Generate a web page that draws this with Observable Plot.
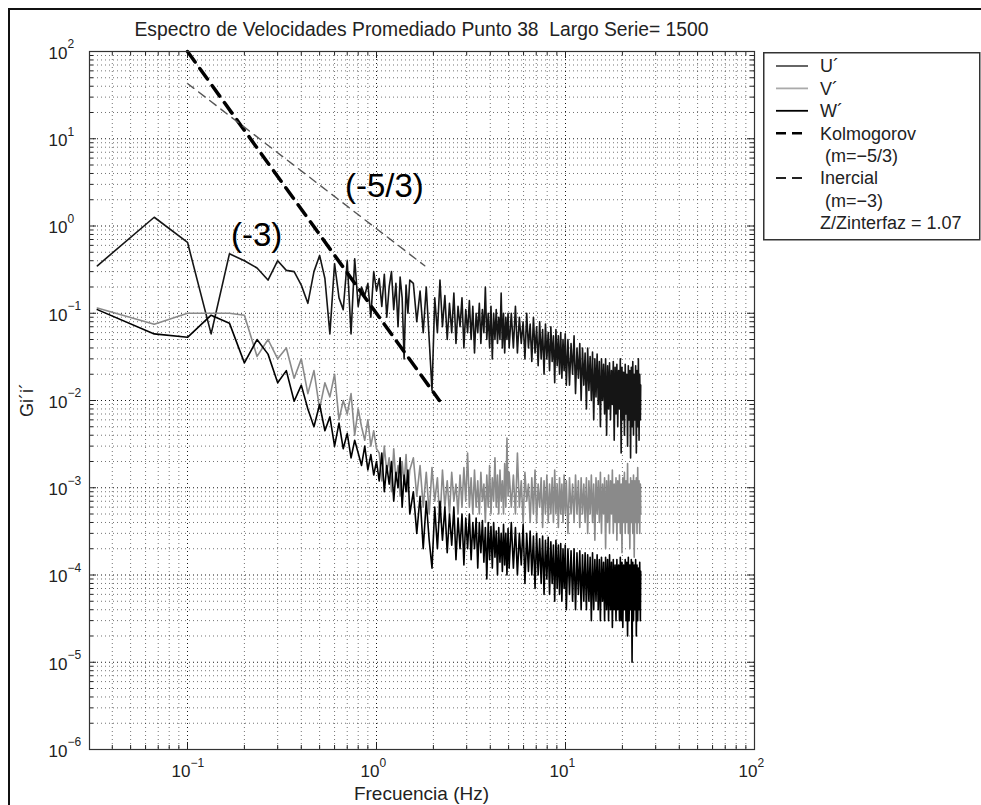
<!DOCTYPE html>
<html><head><meta charset="utf-8">
<script src="https://cdn.jsdelivr.net/npm/d3@7"></script>
<script src="https://cdn.jsdelivr.net/npm/@observablehq/plot@0.6"></script>
<style>
body{margin:0;background:#fff;overflow:hidden}
#wrap{position:relative;width:981px;height:805px;overflow:hidden;background:#fff;font-family:"Liberation Sans",Arial,sans-serif;color:#222}
#border{position:absolute;left:8px;top:8px;width:1200px;height:1200px;border:2px solid #111}
#title{position:absolute;left:89px;width:665px;top:20px;text-align:center;font-size:19.3px;line-height:20px;white-space:nowrap}
#xlabel{position:absolute;left:89px;width:665px;top:784px;text-align:center;font-size:19px;line-height:20px;white-space:nowrap}
#ylabel{position:absolute;left:27px;top:400px;transform:translate(-50%,-50%) rotate(-90deg);font-size:18px;white-space:nowrap}
#chart{position:absolute;left:0;top:0}
#legend{position:absolute;left:763px;top:52px}
</style></head>
<body>
<div id="wrap">
  <div id="border"></div>
  <div id="chart"></div>
  <div id="title">Espectro de Velocidades Promediado Punto 38&nbsp; Largo Serie= 1500</div>
  <div id="xlabel">Frecuencia (Hz)</div>
  <div id="ylabel">Gi´i´</div>
  <div id="legend"></div>
</div>
<script>
// spectral bin numbers (frequency resolution 1/30 Hz)
const binIndex = [1,2,3,4,5,6,7,8,9,10,11,12,13,14,15,16,17,18,19,20,21,22,23,24,25,26,27,28,29,30,31,32,33,34,35,36,37,38,39,40,41,42,43,44,45,
47,49,51,53,55,57,59,61,63,65,67,69,71,73,75,77,79,81,83,85,87,89,91,93,95,97,99,101,103,105,107,109,111,113,115,117,119,121,123,125,127,129,131,133,135,137,139,141,143,145,147,149,151,
155,159,163,167,171,175,179,183,187,191,195,199,203,207,211,215,219,223,227,231,235,239,243,247,251,255,259,263,267,271,275,279,283,287,291,295,299,303,
309,315,321,327,333,339,345,351,357,363,369,375,381,387,393,399,405,411,417,423,
429,435,441,447,453,459,465,471,477,483,489,495,501,507,513,519,525,531,537,543,
549,555,561,567,573,579,585,591,597,603,609,615,621,627,633,639,645,651,657,663,
669,675,681,687,693,699,705,711,717,723,729,735,741,747,750];
const binWidthHz = 1/30;

const uPrime = [0.35,1.26,0.65,0.058,0.48,0.40,0.33,0.24,0.40,0.31,
0.30,0.21,0.13,0.30,0.46,0.25,0.058,0.37,0.15,0.11,
0.40,0.058,0.42,0.12,0.20,0.16,0.22,0.09,0.30,0.18,
0.25,0.12,0.28,0.09,0.20,0.30,0.11,0.22,0.07,0.26,
0.15,0.03,0.21,0.10,0.24,
0.22,0.08,0.18,0.06,0.20,0.05,0.013,0.15,0.06,0.24,
0.07,0.16,0.05,0.13,0.06,0.17,0.045,0.12,0.07,0.15,
0.04,0.11,0.06,0.14,0.05,0.12,0.035,0.10,0.06,0.13,
0.045,0.11,0.06,0.20,0.05,0.10,0.04,0.12,0.03,0.10,
0.05,0.11,0.045,0.09,0.05,0.17,0.04,0.10,0.035,0.09,
0.05,0.10,0.04,
0.10,0.04,0.12,0.035,0.09,0.045,0.08,0.03,0.10,0.04,
0.075,0.028,0.09,0.035,0.07,0.025,0.08,0.03,0.065,0.02,
0.075,0.03,0.06,0.022,0.07,0.028,0.055,0.016,0.065,0.025,
0.055,0.02,0.06,0.018,0.05,0.022,0.058,0.015,
0.05,0.015,0.045,0.02,0.055,0.012,0.04,0.018,0.045,0.01,
0.04,0.015,0.035,0.008,0.04,0.013,0.032,0.01,0.036,0.006,
0.03,0.011,0.034,0.009,0.028,0.005,0.03,0.01,0.026,0.007,
0.03,0.004,0.025,0.008,0.027,0.006,0.022,0.009,0.028,0.0035,
0.024,0.007,0.026,0.005,0.022,0.008,0.03,0.0025,0.024,0.006,
0.021,0.004,0.026,0.007,0.02,0.003,0.025,0.006,0.022,0.0022,
0.024,0.005,0.028,0.004,0.02,0.006,0.025,0.0025,0.022,0.005,
0.03,0.0035,0.02,0.006,0.015];

const vPrime = [0.115,0.075,0.10,0.10,0.10,0.095,0.032,0.05,0.03,0.04,
0.018,0.03,0.012,0.022,0.008,0.016,0.011,0.02,0.006,0.01,
0.007,0.012,0.004,0.008,0.005,0.0035,0.006,0.003,0.0045,0.0028,
0.0025,0.0012,0.003,0.0015,0.0022,0.0009,0.0028,0.0012,0.0018,0.0008,
0.002,0.0011,0.0024,0.0009,0.0016,
0.0022,0.0008,0.0018,0.0006,0.0015,0.0005,0.0017,0.0007,0.0013,0.0004,
0.0016,0.0006,0.0012,0.0005,0.0015,0.0007,0.0011,0.0005,0.0014,0.0006,
0.0017,0.0007,0.0025,0.0006,0.0013,0.0005,0.0016,0.0006,0.0012,0.0005,
0.0015,0.0007,0.0011,0.0004,0.0014,0.0006,0.0018,0.0005,0.0013,0.0007,
0.0022,0.0006,0.0014,0.0005,0.0016,0.0007,0.0012,0.0005,0.0019,0.0006,
0.0037,0.0008,0.0015,
0.0006,0.0014,0.0005,0.0025,0.0006,0.0012,0.0004,0.0015,0.0007,0.0011,
0.0004,0.0013,0.0005,0.0016,0.0004,0.0011,0.0006,0.0013,0.00035,0.0012,
0.0005,0.0014,0.0004,0.0011,0.0005,0.0013,0.0004,0.0016,0.0005,0.0011,
0.00035,0.0013,0.0005,0.0011,0.0004,0.0014,0.0005,0.0012,
0.0003,0.0013,0.0005,0.0011,0.0004,0.0014,0.0005,0.0012,0.00035,0.0013,
0.0005,0.0011,0.0004,0.0013,0.0003,0.0012,0.0005,0.0014,0.0004,0.0011,
0.00025,0.0013,0.0005,0.0012,0.0004,0.0015,0.0003,0.0011,0.0005,0.0013,
0.0002,0.0012,0.0004,0.0014,0.0003,0.0012,0.0005,0.0016,0.0003,0.0011,
0.0004,0.0013,0.00025,0.0012,0.0004,0.0014,0.0003,0.0011,0.00018,0.0013,
0.0004,0.0015,0.0003,0.0012,0.0004,0.0019,0.0003,0.0011,0.0002,0.0013,
0.0004,0.0012,0.0003,0.0014,0.00016,0.0012,0.0004,0.0013,0.0003,0.0017,
0.0004,0.0012,0.0003,0.0011,0.0005];

const wPrime = [0.11,0.058,0.053,0.095,0.077,0.027,0.05,0.034,0.016,0.022,
0.0098,0.015,0.008,0.005,0.009,0.0045,0.0065,0.003,0.0055,0.0028,
0.0042,0.0022,0.0035,0.0025,0.0018,0.003,0.0016,0.0024,0.0014,0.002,
0.0012,0.0025,0.0009,0.0018,0.0011,0.002,0.0007,0.0015,0.001,0.0022,
0.0006,0.0014,0.0009,0.0016,0.0005,
0.0009,0.0003,0.0008,0.0002,0.0007,0.00025,0.00012,0.0006,0.0002,0.0007,
0.00025,0.0006,0.00018,0.0005,0.00022,0.0006,0.00015,0.00045,0.0002,0.0005,
0.00013,0.00045,0.0002,0.0005,0.00015,0.0004,0.0002,0.00045,0.00012,0.0004,
0.00018,0.00042,0.00014,0.00035,0.00009,0.0004,0.00015,0.00036,0.00012,0.0004,
0.00016,0.00032,0.0001,0.00035,0.00014,0.0003,0.00011,0.00038,0.00013,0.0003,
0.0001,0.00034,0.00012,
0.0004,0.00012,0.00035,0.0001,0.0003,0.00013,0.00038,0.00008,0.0003,0.00011,
0.00032,0.0001,0.00028,0.00007,0.0003,0.0001,0.00026,0.00008,0.00028,0.00006,
0.00025,0.00009,0.00027,0.00006,0.00024,0.00008,0.00022,0.00005,0.00025,0.00007,
0.00022,0.00006,0.00023,0.00005,0.0002,0.00007,0.00022,0.00004,
0.0002,0.00006,0.00019,0.00005,0.0002,0.00004,0.00018,0.00006,0.00019,0.00004,
0.00017,0.00005,0.00018,0.00004,0.00017,0.00005,0.00016,0.00003,0.00018,0.00004,
0.00015,0.00005,0.00017,0.00004,0.00015,0.00003,0.00016,0.00005,0.00014,0.00003,
0.00016,0.00004,0.00015,0.00003,0.00017,0.00004,0.00014,0.000025,0.00015,0.00004,
0.00013,0.00003,0.00015,0.00004,0.00013,0.00003,0.00016,0.00003,0.00014,0.000025,
0.00013,0.00004,0.00015,0.00003,0.00014,0.00002,0.00016,0.00003,0.00013,0.00004,
0.00015,0.00001,0.00014,0.00003,0.00013,0.00004,0.00015,0.00002,0.00013,0.00003,
0.00012,0.00004,0.00014,0.00003,0.00011];

const seriesNames = ["U´","V´","W´"];
const seriesColors = ["#151515","#8a8a8a","#000000"];

// reference slopes
const kolmogorovF = [0.1, 2.15];
const kolmogorovG = [100, 0.01];
const inercialF = [0.1, 1.8];
const inercialG = [43, 0.35];

// annotations
const annotLabels = ["(-3)", "(-5/3)"];
const annotF = [0.232, 1.10];
const annotG = [0.78, 2.84];

// axes
const xTickValues = [0.1, 1, 10, 100];
const xTickExp = ["−1","0","1","2"];
const yTickValues = [1e-6,1e-5,1e-4,1e-3,1e-2,1e-1,1,10,100];
const yTickExp = ["−6","−5","−4","−3","−2","−1","0","1","2"];

const legendLabels = ["U´","V´","W´","Kolmogorov"," (m=−5/3)","Inercial"," (m=−3)","Z/Zinterfaz = 1.07"];

// ---- build ----
const xDomain = [0.0303, 100];
const yDomain = [1e-6, 100];
const W = 981, H = 805, mL = 89, mR = 227, mT = 51, mB = 56;
const frameW = W - mL - mR, frameH = H - mT - mB;

const freq = binIndex.map(k => k * binWidthHz);
const toRows = (vals) => freq.map((f, i) => ({f, g: vals[i]}));
const uRows = toRows(uPrime), vRows = toRows(vPrime), wRows = toRows(wPrime);
const kolRows = kolmogorovF.map((f, i) => ({f, g: kolmogorovG[i]}));
const inRows = inercialF.map((f, i) => ({f, g: inercialG[i]}));
const annRows = annotLabels.map((t, i) => ({t, f: annotF[i], g: annotG[i]}));

const mult = [2,3,4,5,6,7,8,9];
const xMinor = [0.01,0.1,1,10].flatMap(d => mult.map(m => d*m)).filter(v => v > xDomain[0] && v < xDomain[1]);
const yMinor = [1e-6,1e-5,1e-4,1e-3,1e-2,1e-1,1,10].flatMap(d => mult.map(m => d*m));
const xMajorIn = xTickValues.filter(v => v < xDomain[1]);
const yMajorIn = yTickValues.filter(v => v > yDomain[0] && v < yDomain[1]);

const grid = {stroke: "#000", strokeDasharray: "1,3", strokeWidth: 1};
const lineW = 1.6;

const chart = Plot.plot({
  width: W, height: H,
  marginLeft: mL, marginRight: mR, marginTop: mT, marginBottom: mB,
  x: {type: "log", domain: xDomain, axis: null},
  y: {type: "log", domain: yDomain, axis: null},
  style: {fontFamily: "'Liberation Sans', Arial, sans-serif", background: "transparent", color: "#222"},
  marks: [
    Plot.ruleX(xMinor, {...grid, strokeOpacity: 0.55}),
    Plot.ruleY(yMinor, {...grid, strokeOpacity: 0.55}),
    Plot.ruleX(xMajorIn, {...grid, strokeOpacity: 0.9}),
    Plot.ruleY(yMajorIn, {...grid, strokeOpacity: 0.9}),
    // inward ticks
    Plot.ruleX(xTickValues, {stroke: "#222", insetTop: frameH - 7}),
    Plot.ruleX(xTickValues, {stroke: "#222", insetBottom: frameH - 7}),
    Plot.ruleX(xMinor, {stroke: "#222", insetTop: frameH - 4}),
    Plot.ruleX(xMinor, {stroke: "#222", insetBottom: frameH - 4}),
    Plot.ruleY(yTickValues, {stroke: "#222", insetRight: frameW - 7}),
    Plot.ruleY(yTickValues, {stroke: "#222", insetLeft: frameW - 7}),
    Plot.ruleY(yMinor, {stroke: "#222", insetRight: frameW - 4}),
    Plot.ruleY(yMinor, {stroke: "#222", insetLeft: frameW - 4}),
    // series
    Plot.line(uRows, {x: "f", y: "g", stroke: seriesColors[0], strokeWidth: lineW}),
    Plot.line(vRows, {x: "f", y: "g", stroke: seriesColors[1], strokeWidth: lineW}),
    Plot.line(wRows, {x: "f", y: "g", stroke: seriesColors[2], strokeWidth: lineW}),
    // reference lines
    Plot.line(kolRows, {x: "f", y: "g", stroke: "#000", strokeWidth: 3.5, strokeDasharray: "13,8"}),
    Plot.line(inRows, {x: "f", y: "g", stroke: "#555", strokeWidth: 1.4, strokeDasharray: "8,6"}),
    Plot.frame({stroke: "#333", strokeWidth: 1.2}),
    // annotations
    Plot.text(annRows, {x: "f", y: "g", text: "t", fontSize: 33, fill: "#000"}),
    // tick labels
    Plot.text(xTickValues, {x: d => d, y: () => yDomain[0], text: () => "10", textAnchor: "end", dx: 3, dy: 22, fontSize: 17, fill: "#222"}),
    Plot.text(xTickValues, {x: d => d, y: () => yDomain[0], text: (d, i) => xTickExp[i], textAnchor: "start", dx: 3, dy: 14, fontSize: 12, fill: "#222"}),
    Plot.text(yTickValues, {x: () => xDomain[0], y: d => d, text: () => "10", textAnchor: "end", dx: -22, dy: 2, fontSize: 17, fill: "#222"}),
    Plot.text(yTickValues, {x: () => xDomain[0], y: d => d, text: (d, i) => yTickExp[i], textAnchor: "start", dx: -22, dy: -7, fontSize: 12, fill: "#222"})
  ]
});
document.getElementById("chart").appendChild(chart);

// legend
const lw = 218, lh = 189;
const leg = d3.select("#legend").append("svg").attr("width", lw).attr("height", lh)
  .style("font-family", "'Liberation Sans', Arial, sans-serif");
leg.append("rect").attr("x", 0.75).attr("y", 0.75).attr("width", lw - 2).attr("height", lh - 2)
  .attr("fill", "#fff").attr("stroke", "#333").attr("stroke-width", 1.5);
const rowY = i => 14 + i * 22.4;
const samples = [
  {row: 0, stroke: "#555", w: 1.8, dash: null},
  {row: 1, stroke: "#aaa", w: 1.8, dash: null},
  {row: 2, stroke: "#000", w: 1.8, dash: null},
  {row: 3, stroke: "#000", w: 2.5, dash: "10,6"},
  {row: 5, stroke: "#222", w: 1.8, dash: "10,6"}
];
samples.forEach(s => {
  const l = leg.append("line").attr("x1", 13).attr("x2", 45).attr("y1", rowY(s.row)).attr("y2", rowY(s.row))
    .attr("stroke", s.stroke).attr("stroke-width", s.w);
  if (s.dash) l.attr("stroke-dasharray", s.dash);
});
legendLabels.forEach((t, i) => {
  leg.append("text").attr("x", 57).attr("y", rowY(i)).attr("dy", "0.35em")
    .attr("font-size", 18).attr("fill", "#222").style("white-space", "pre").text(t);
});
</script>
</body></html>
